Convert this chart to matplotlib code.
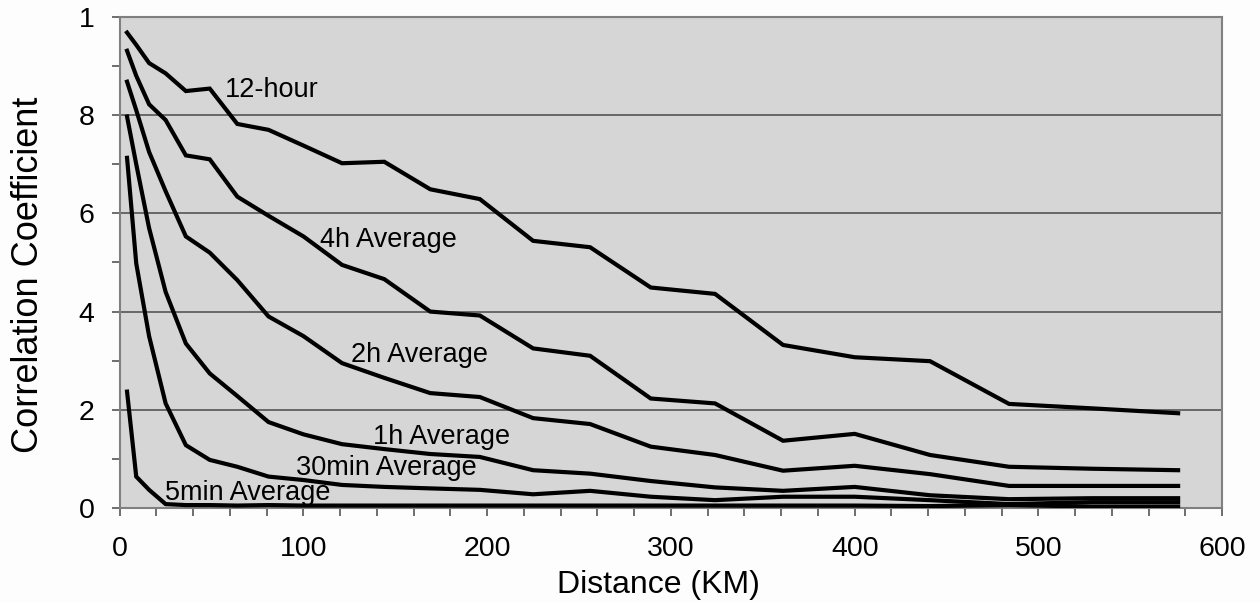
import matplotlib
matplotlib.use('Agg')
import matplotlib.pyplot as plt
from matplotlib.ticker import MultipleLocator

plt.rcParams['font.family'] = ['Liberation Sans', 'DejaVu Sans']

# distances (km)
dist = [4, 9, 16, 25, 36, 49, 64, 81, 100, 121, 144, 169, 196, 225, 256,
        289, 324, 361, 400, 441, 484, 529, 576]

# correlation coefficient per averaging window
h12 = [0.968, 0.943, 0.906, 0.885, 0.849, 0.854, 0.782, 0.770, 0.738, 0.702,
       0.705, 0.649, 0.629, 0.544, 0.531, 0.449, 0.436, 0.332, 0.307, 0.299,
       0.212, 0.203, 0.193]
h4 = [0.931, 0.880, 0.822, 0.790, 0.718, 0.710, 0.634, 0.595, 0.553, 0.495,
      0.466, 0.400, 0.392, 0.325, 0.310, 0.223, 0.213, 0.137, 0.151, 0.108,
      0.084, 0.080, 0.077]
h2 = [0.868, 0.810, 0.725, 0.645, 0.553, 0.520, 0.464, 0.390, 0.350, 0.295,
      0.265, 0.234, 0.226, 0.183, 0.171, 0.125, 0.108, 0.076, 0.086, 0.069,
      0.045, 0.045, 0.045]
h1 = [0.797, 0.700, 0.570, 0.440, 0.335, 0.274, 0.228, 0.175, 0.150, 0.130,
      0.120, 0.110, 0.104, 0.077, 0.070, 0.055, 0.042, 0.035, 0.043, 0.026,
      0.018, 0.020, 0.020]
m30 = [0.713, 0.498, 0.350, 0.213, 0.128, 0.098, 0.084, 0.064, 0.057, 0.047,
       0.043, 0.040, 0.037, 0.028, 0.035, 0.023, 0.016, 0.023, 0.023, 0.016,
       0.008, 0.012, 0.012]
m5 = [0.237, 0.064, 0.037, 0.008, 0.006, 0.006, 0.005, 0.006, 0.005, 0.005,
      0.005, 0.005, 0.005, 0.005, 0.005, 0.005, 0.005, 0.005, 0.005, 0.004,
      0.006, 0.003, 0.003]

series = [h12, h4, h2, h1, m30, m5]
names = ['12-hour', '4h Average', '2h Average', '1h Average', '30min Average', '5min Average']
label_pos = [(57, 0.851), (109, 0.546), (126, 0.312), (138, 0.145), (96, 0.081), (24.5, 0.031)]

fig = plt.figure(figsize=(12.6, 6.03), dpi=100, facecolor='#fdfdfd')
ax = fig.add_axes([0.095, 0.1575, 0.875, 0.8145])
ax.set_facecolor('#d6d6d6')

for y in series:
    ax.plot(dist, y, color='black', lw=3, solid_joinstyle='miter', zorder=3)

for name, (tx, ty) in zip(names, label_pos):
    ax.text(tx, ty, name, fontsize=19.5, va='center', ha='left', zorder=4)

ax.set_xlim(0, 600)
ax.set_ylim(0, 1)
ax.xaxis.set_major_locator(MultipleLocator(100))
ax.xaxis.set_minor_locator(MultipleLocator(20))
ax.set_yticks([0, 0.2, 0.4, 0.6, 0.8, 1.0])
ax.set_yticklabels(['0', '2', '4', '6', '8', '1'])
ax.yaxis.set_minor_locator(MultipleLocator(0.1))
ax.grid(axis='y', which='major', color='#555555', lw=1.2, zorder=1)
ax.set_axisbelow(True)

for s in ax.spines.values():
    s.set_color('#808080')
    s.set_linewidth(1.5)
ax.tick_params(which='both', direction='out', length=6, width=1.2, color='#555555',
               labelsize=20.5)
ax.tick_params(axis='x', pad=14)
ax.tick_params(axis='y', pad=12)

ax.set_xlabel('Distance (KM)', fontsize=23)
ax.xaxis.label.set_va('center')
ax.xaxis.set_label_coords(0.489, -0.157)
ax.set_ylabel('Correlation Coefficient', fontsize=26)
ax.yaxis.label.set_va('center')
ax.yaxis.set_label_coords(-0.083, 0.475)

fig.savefig('out.png', dpi=100, facecolor=fig.get_facecolor())
